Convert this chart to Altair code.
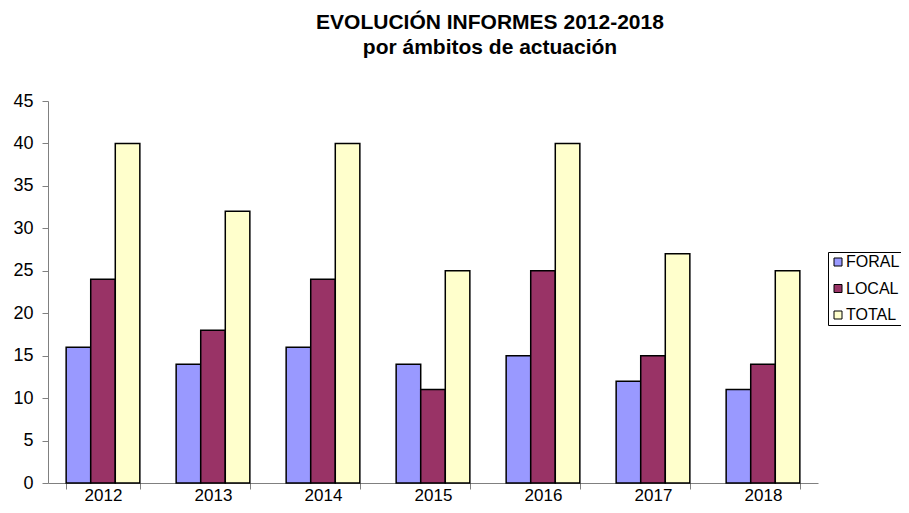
import altair as alt
import pandas as pd

years = ["2012", "2013", "2014", "2015", "2016", "2017", "2018"]
foral = [16, 14, 16, 14, 15, 12, 11]
local = [24, 18, 24, 11, 25, 15, 14]
total = [40, 32, 40, 25, 40, 27, 25]
series = ["FORAL", "LOCAL", "TOTAL"]
colors = ["#9999FF", "#993366", "#FFFFCC"]

rows = []
for i, y in enumerate(years):
    for s, vals in zip(series, [foral, local, total]):
        rows.append({"year": y, "serie": s, "value": vals[i]})
df = pd.DataFrame(rows)

FONT = "Liberation Sans"

chart = alt.Chart(df).mark_bar(stroke="black", strokeWidth=1.5).encode(
    x=alt.X("year:N", title=None,
            scale=alt.Scale(paddingInner=0.33, paddingOuter=0.165),
            axis=alt.Axis(labelAngle=0, tickBand="extent", domainColor="#808080",
                          tickColor="#808080", tickSize=6, labelPadding=11,
                          labelBaseline="alphabetic",
                          labelFontSize=17, labelColor="black", labelFont=FONT)),
    xOffset=alt.XOffset("serie:N", sort=series,
                        scale=alt.Scale(paddingInner=0, paddingOuter=0)),
    y=alt.Y("value:Q", title=None,
            scale=alt.Scale(domain=[0, 45]),
            axis=alt.Axis(values=list(range(0, 50, 5)), grid=False,
                          domainColor="#808080", tickColor="#808080", tickSize=6,
                          labelPadding=9, labelFontSize=18, labelColor="black",
                          labelFont=FONT)),
    color=alt.Color("serie:N", sort=series,
                    scale=alt.Scale(domain=series, range=colors),
                    legend=alt.Legend(title=None, orient="none", legendX=780, legendY=151,
                                      symbolType="square", symbolSize=64,
                                      symbolStrokeColor="black", symbolStrokeWidth=1,
                                      symbolOpacity=1,
                                      strokeColor="black", padding=2, rowPadding=10.5,
                                      labelFontSize=16, labelFont=FONT, labelColor="black",
                                      labelOffset=0)),
).properties(
    width=770,
    height=382,
    title=alt.TitleParams(
        text=["EVOLUCIÓN INFORMES 2012-2018", "por ámbitos de actuación"],
        fontSize=21, font=FONT, fontWeight="bold", color="black",
        lineHeight=25, anchor="middle", dx=57, offset=34,
    ),
    autosize=alt.AutoSizeParams(type="none"),
    padding={"left": 40, "top": 93, "right": 83, "bottom": 22},
).configure_view(stroke=None)

chart.save("out.html", embed_options={"renderer": "svg", "actions": False})
